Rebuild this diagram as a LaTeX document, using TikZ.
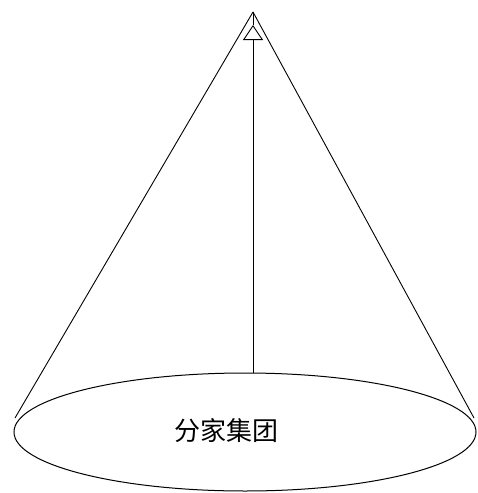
\documentclass[tikz,border=0pt]{standalone}
\usepackage{fontspec}
\newfontfamily\cjk{Noto Sans CJK SC}
\usetikzlibrary{arrows.meta,shapes.geometric}
\begin{document}
\begin{tikzpicture}[x=1pt,y=-1pt,line width=1pt,
  base/.style={draw,ellipse,minimum width=462pt,minimum height=118pt,inner sep=0pt},
  edge/.style={draw,line width=0.9pt}]
\useasboundingbox (0,0) rectangle (478,493);
\node[base] (b) at (245,432) {};
\node[font=\cjk\fontsize{26}{30}\selectfont] (t) at (226,431) {分家集团};
\coordinate (apex) at (253,12);
\coordinate (tip) at (253,25);
\coordinate (top) at (253,373);
\coordinate (l) at (15,418);
\coordinate (r) at (474,418);
\draw[edge] (apex) -- (l);
\draw[edge] (apex) -- (r);
\draw[edge] (apex) -- (tip);
\draw[edge,-{Triangle[open,length=15pt,width=20pt]}] (top) -- (tip);
\end{tikzpicture}
\end{document}
